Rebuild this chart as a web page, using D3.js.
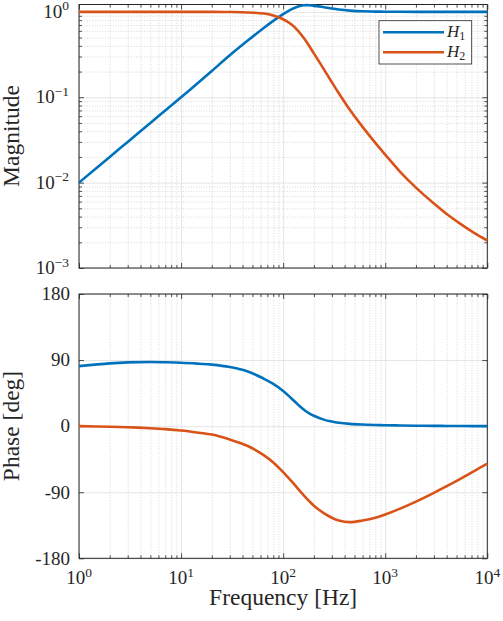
<!DOCTYPE html>
<html>
<head>
<meta charset="utf-8">
<script src="https://cdn.jsdelivr.net/npm/d3@7"></script>
<style>
body { margin: 0; background: #fff; }
svg { display: block; }
text { font-family: "Liberation Serif", "DejaVu Serif", serif; }
.major line { stroke: #dedede; stroke-width: 0.8; }
.minor line { stroke: #c9c9c9; stroke-width: 0.7; stroke-dasharray: 1, 1.6; }
.ticks line { stroke: #262626; stroke-width: 0.8; }
</style>
</head>
<body>
<svg width="503" height="621"></svg>
<script>
// frequencies (Hz) the curves were read at
let freq = [1, 2, 3, 5, 7, 10, 15, 20, 30, 45, 65, 80, 100, 120, 140, 160, 180, 200,
	250, 300, 350, 450, 600, 800, 1000, 1400, 2000, 3000, 4000, 5500, 7500, 10000];

let h1Mag = [0.01, 0.02, 0.03, 0.05, 0.07, 0.1, 0.151, 0.203, 0.31, 0.461, 0.652, 0.785, 0.942, 1.07,
	1.156, 1.195, 1.198, 1.183, 1.134, 1.093, 1.065, 1.035, 1.015, 1.008, 1.004, 1.002, 1.0, 1.0, 1.0, 1.0, 1.0, 1.0];

let h2Mag = [1.0, 1.0, 1.0, 1.0, 1.0, 1.0, 1.0, 0.999, 0.996, 0.985, 0.955, 0.907, 0.82, 0.715,
	0.599, 0.49, 0.399, 0.3265, 0.2138, 0.15, 0.112, 0.0713, 0.045, 0.0292, 0.0213, 0.0134, 0.00875,
	0.00568, 0.0043, 0.00327, 0.00256, 0.0021];

let h1Phase = [81.8, 85.5, 86.8, 87.3, 87, 86.4, 85, 83.8, 80.5, 74.5, 64.5, 57.5, 48, 38,
	29.3, 22.4, 17.5, 14.2, 8.9, 6.2, 4.6, 3.1, 2.2, 1.6, 1.25, 0.9, 0.6, 0.4, 0.3, 0.2, 0.1, 0.1];

let h2Phase = [0, -0.8, -1.5, -2.8, -4, -5.9, -9, -11.5, -18.2, -27, -39.8, -49.5, -62.6, -74.6,
	-85.3, -94.5, -102.1, -108.3, -118.5, -124.8, -128.5, -130.7, -128.5, -124.8, -120.4, -112.4,
	-102.8, -90.8, -81.8, -71.4, -61, -51];

let seriesLabels = ['1', '2'];
let colors = ['#0072BD', '#D95319'];

let freqTicks = [1, 10, 100, 1000, 10000];
let freqTickExp = ['0', '1', '2', '3', '4'];
let magTicks = [1e-3, 1e-2, 1e-1, 1];
let magTickExp = ['\u22123', '\u22122', '\u22121', '0'];
let phaseTicks = [-180, -90, 0, 90, 180];

const left = 79, right = 487.3;
const svg = d3.select('svg');

const x = d3.scaleLog().domain([1, 1e4]).range([left, right]);
const yMag = d3.scaleLog().domain([1e-3, 1.22]).range([268, 4.5]);
const yPh = d3.scaleLinear().domain([-180, 180]).range([558.3, 294]);

let xMinor = [];
for (let e = 0; e < 4; e++) for (let k = 2; k <= 9; k++) xMinor.push(k * Math.pow(10, e));
let yMinor = [];
for (let e = -3; e < 0; e++) for (let k = 2; k <= 9; k++) yMinor.push(k * Math.pow(10, e));

function axisLayer(g, axis, tr, cls) {
	g.append('g')
		.attr('class', cls)
		.attr('transform', tr)
		.call(axis.tickFormat(''))
		.call(a => a.select('.domain').remove());
}

function frame(y, yMajor, yMinorVals) {
	let [b, t] = y.range();
	let w = right - left, h = b - t;
	let g = svg.append('g');

	// grid
	axisLayer(g, d3.axisBottom(x).tickValues(xMinor).tickSize(-h), `translate(0,${b})`, 'minor');
	if (yMinorVals) axisLayer(g, d3.axisLeft(y).tickValues(yMinorVals).tickSize(-w), `translate(${left},0)`, 'minor');
	axisLayer(g, d3.axisBottom(x).tickValues(freqTicks).tickSize(-h), `translate(0,${b})`, 'major');
	axisLayer(g, d3.axisLeft(y).tickValues(yMajor).tickSize(-w), `translate(${left},0)`, 'major');

	// inward ticks on all four sides
	[[d3.axisBottom, b], [d3.axisTop, t]].forEach(([fn, pos]) => {
		axisLayer(g, fn(x).tickValues(freqTicks).tickSize(-5), `translate(0,${pos})`, 'ticks');
		axisLayer(g, fn(x).tickValues(xMinor).tickSize(-3), `translate(0,${pos})`, 'ticks');
	});
	[[d3.axisLeft, left], [d3.axisRight, right]].forEach(([fn, pos]) => {
		axisLayer(g, fn(y).tickValues(yMajor).tickSize(-5), `translate(${pos},0)`, 'ticks');
		if (yMinorVals) axisLayer(g, fn(y).tickValues(yMinorVals).tickSize(-3), `translate(${pos},0)`, 'ticks');
	});

	g.append('rect')
		.attr('x', left).attr('y', t)
		.attr('width', w).attr('height', h)
		.attr('fill', 'none')
		.attr('stroke', '#262626')
		.attr('stroke-width', 1);
}

function curve(y, values, color) {
	let line = d3.line()
		.x((d, i) => x(freq[i]))
		.y(d => y(d))
		.curve(d3.curveCatmullRom.alpha(0.5));
	svg.append('path')
		.datum(values)
		.attr('d', line)
		.attr('fill', 'none')
		.attr('stroke', color)
		.attr('stroke-width', 2.6)
		.attr('stroke-linejoin', 'round');
}

frame(yMag, magTicks, yMinor);
frame(yPh, phaseTicks, null);

curve(yMag, h1Mag, colors[0]);
curve(yMag, h2Mag, colors[1]);
curve(yPh, h1Phase, colors[0]);
curve(yPh, h2Phase, colors[1]);

// magnitude tick labels
magTicks.forEach((v, i) => {
	let t = svg.append('text')
		.attr('x', 69)
		.attr('y', yMag(v) + 6)
		.attr('text-anchor', 'end')
		.attr('font-size', 19)
		.attr('fill', '#262626')
		.text('10');
	t.append('tspan').attr('dy', -7.5).attr('font-size', 13.5).text(magTickExp[i]);
});

// phase tick labels
svg.selectAll('.phl')
	.data(phaseTicks)
	.join('text')
	.attr('x', 70)
	.attr('y', d => yPh(d) + 6.3)
	.attr('text-anchor', 'end')
	.attr('font-size', 19)
	.attr('fill', '#262626')
	.text(d => d);

// frequency tick labels
freqTicks.forEach((v, i) => {
	let t = svg.append('text')
		.attr('x', x(v))
		.attr('y', 584)
		.attr('text-anchor', 'middle')
		.attr('font-size', 19)
		.attr('fill', '#262626')
		.text('10');
	t.append('tspan').attr('dy', -7.5).attr('font-size', 13.5).text(freqTickExp[i]);
});

// axis labels
svg.append('text')
	.attr('x', (left + right) / 2)
	.attr('y', 605)
	.attr('text-anchor', 'middle')
	.attr('font-size', 23.5)
	.attr('fill', '#262626')
	.text('Frequency [Hz]');

[['Magnitude', 136], ['Phase [deg]', 426]].forEach(([label, cy]) => {
	svg.append('text')
		.attr('transform', `translate(19,${cy}) rotate(-90)`)
		.attr('text-anchor', 'middle')
		.attr('font-size', 23.5)
		.attr('fill', '#262626')
		.text(label);
});

// legend
let lg = svg.append('g');
lg.append('rect')
	.attr('x', 379).attr('y', 20.7)
	.attr('width', 92.7).attr('height', 43.3)
	.attr('fill', '#fff')
	.attr('stroke', '#262626')
	.attr('stroke-width', 0.8);

seriesLabels.forEach((s, i) => {
	let ly = 32.3 + i * 20;
	lg.append('line')
		.attr('x1', 383).attr('x2', 444)
		.attr('y1', ly).attr('y2', ly)
		.attr('stroke', colors[i])
		.attr('stroke-width', 2.6);
	let t = lg.append('text')
		.attr('x', 447)
		.attr('y', ly + 4.8)
		.attr('font-size', 17)
		.attr('fill', '#262626');
	t.append('tspan').attr('font-style', 'italic').text('H');
	t.append('tspan').attr('dy', 2.7).attr('font-size', 12).text(s);
});
</script>
</body>
</html>
